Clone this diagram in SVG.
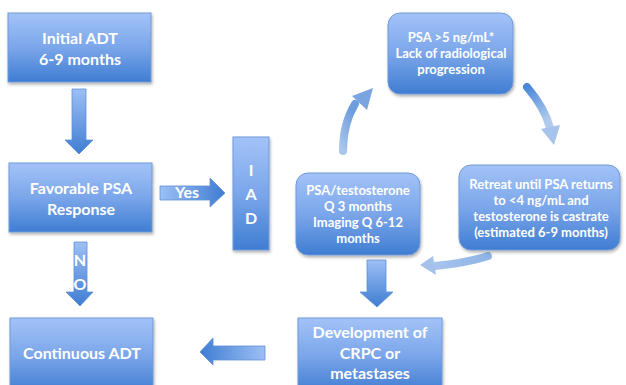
<svg xmlns="http://www.w3.org/2000/svg" width="626" height="385" viewBox="0 0 626 385">
<defs>
  <linearGradient id="gBox" x1="0" y1="0" x2="0" y2="1">
    <stop offset="0" stop-color="#a3c3f8"/>
    <stop offset="0.5" stop-color="#7ba6ea"/>
    <stop offset="1" stop-color="#3f7dd2"/>
  </linearGradient>
  <linearGradient id="gDown" x1="0" y1="0" x2="0" y2="1">
    <stop offset="0" stop-color="#9dbff5"/>
    <stop offset="1" stop-color="#3f7dd2"/>
  </linearGradient>
  <linearGradient id="gRight" x1="0" y1="0" x2="1" y2="0">
    <stop offset="0" stop-color="#9dbff5"/>
    <stop offset="1" stop-color="#3f7dd2"/>
  </linearGradient>
  <linearGradient id="gLeft" x1="1" y1="0" x2="0" y2="0">
    <stop offset="0" stop-color="#9dbff5"/>
    <stop offset="1" stop-color="#3f7dd2"/>
  </linearGradient>
  <linearGradient id="gC1" x1="0" y1="1" x2="0.4" y2="0">
    <stop offset="0" stop-color="#a9c6ec"/>
    <stop offset="1" stop-color="#6d9ddd"/>
  </linearGradient>
  <linearGradient id="gC2" x1="0" y1="0" x2="0.4" y2="1">
    <stop offset="0" stop-color="#4a86d8"/>
    <stop offset="1" stop-color="#b0cbee"/>
  </linearGradient>
  <linearGradient id="gC3" x1="1" y1="0" x2="0" y2="0">
    <stop offset="0" stop-color="#8fb4e6"/>
    <stop offset="1" stop-color="#a7c4ec"/>
  </linearGradient>
  <filter id="sh" x="-10%" y="-10%" width="125%" height="130%">
    <feDropShadow dx="1" dy="2" stdDeviation="1.5" flood-color="#000" flood-opacity="0.3"/>
  </filter>
</defs>
<style>
  .box { fill: url(#gBox); stroke: #6f9ad8; stroke-width: 1; filter: url(#sh); }
  .t { font-family: Lato, "Liberation Sans", sans-serif; font-weight: bold; fill: #ffffff; text-anchor: middle; }
  .L { font-size: 16px; }
  .S { font-size: 13px; }
  .arr { stroke: #5f8fd3; stroke-width: 0.8; }
</style>

<g id="connectors">
  <!-- Initial -> Favorable -->
  <path class="arr" fill="url(#gDown)" d="M72,89 H86 V140 H93 L79,154 L65,140 H72 Z"/>
  <!-- Yes arrow -->
  <path class="arr" fill="url(#gRight)" d="M160,186 H210 V178 L225,193 L210,207 V200 H160 Z"/>
  <text class="t L" x="187" y="198">Yes</text>
  <!-- NO arrow -->
  <path class="arr" fill="url(#gDown)" d="M74,242 H87 V292 H93 L80,306 L66,292 H74 Z"/>
  <text class="t L" x="80" y="266">N</text>
  <text class="t L" x="80" y="290">O</text>
  <!-- PSA/testosterone -> Development -->
  <path class="arr" fill="url(#gDown)" d="M367,260 H386 V292 H393 L377,307 L360,292 H367 Z"/>
  <!-- Development -> Continuous -->
  <path class="arr" fill="url(#gLeft)" d="M265,346 H213 V338 L200,352 L213,365 V360 H265 Z"/>
  <!-- curved arrow 1 -->
  <path d="M343,151 C343,133 347,117 355,104" fill="none" stroke="url(#gC1)" stroke-width="8" stroke-linecap="round"/>
  <path d="M352,96 L373,88 L367,110 Z" fill="#7ba5e0"/>
  <!-- curved arrow 2 -->
  <path d="M527,87 C538,100 546,112 550,128" fill="none" stroke="url(#gC2)" stroke-width="8" stroke-linecap="round"/>
  <path d="M541,129 L560,125 L554,145 Z" fill="#a6c3ec"/>
  <!-- curved arrow 3 -->
  <path d="M488,256 C470,262 455,264 435,266" fill="none" stroke="url(#gC3)" stroke-width="8" stroke-linecap="round"/>
  <path d="M433,256 L420,265 L436,275 Z" fill="#a5c2ea"/>
</g>

<g id="initial-adt">
  <rect class="box" x="8" y="13" width="143" height="69"/>
  <text class="t L" x="80" y="44">Initial ADT</text>
  <text class="t L" x="80" y="65">6-9 months</text>
</g>
<g id="favorable-psa">
  <rect class="box" x="9" y="163" width="143" height="69"/>
  <text class="t L" x="81" y="194">Favorable PSA</text>
  <text class="t L" x="81" y="215">Response</text>
</g>
<g id="iad">
  <rect class="box" x="233" y="137" width="36" height="113"/>
  <text class="t L" x="251" y="176">I</text>
  <text class="t L" x="251" y="200">A</text>
  <text class="t L" x="251" y="224">D</text>
</g>
<g id="continuous-adt">
  <rect class="box" x="10" y="318" width="143" height="75"/>
  <text class="t L" x="82" y="359">Continuous ADT</text>
</g>
<g id="development">
  <rect class="box" x="298" y="318" width="144" height="75"/>
  <text class="t L" x="370" y="338">Development of</text>
  <text class="t L" x="370" y="359">CRPC or</text>
  <text class="t L" x="370" y="379">metastases</text>
</g>
<g id="monitoring">
  <rect class="box" x="296" y="173" width="124" height="82" rx="12"/>
  <text class="t S" x="358" y="195">PSA/testosterone</text>
  <text class="t S" x="358" y="211">Q 3 months</text>
  <text class="t S" x="358" y="227">Imaging Q 6-12</text>
  <text class="t S" x="358" y="243">months</text>
</g>
<g id="psa-threshold">
  <rect class="box" x="388" y="13" width="125" height="81" rx="12"/>
  <text class="t S" x="451" y="42">PSA &gt;5 ng/mL*</text>
  <text class="t S" x="451" y="58">Lack of radiological</text>
  <text class="t S" x="451" y="74">progression</text>
</g>
<g id="retreat">
  <rect class="box" x="459" y="165" width="161" height="85" rx="12"/>
  <text class="t S" x="541" y="189">Retreat until PSA returns</text>
  <text class="t S" x="541" y="205">to &lt;4 ng/mL and</text>
  <text class="t S" x="541" y="221">testosterone is castrate</text>
  <text class="t S" x="541" y="237">(estimated 6-9 months)</text>
</g>
</svg>
